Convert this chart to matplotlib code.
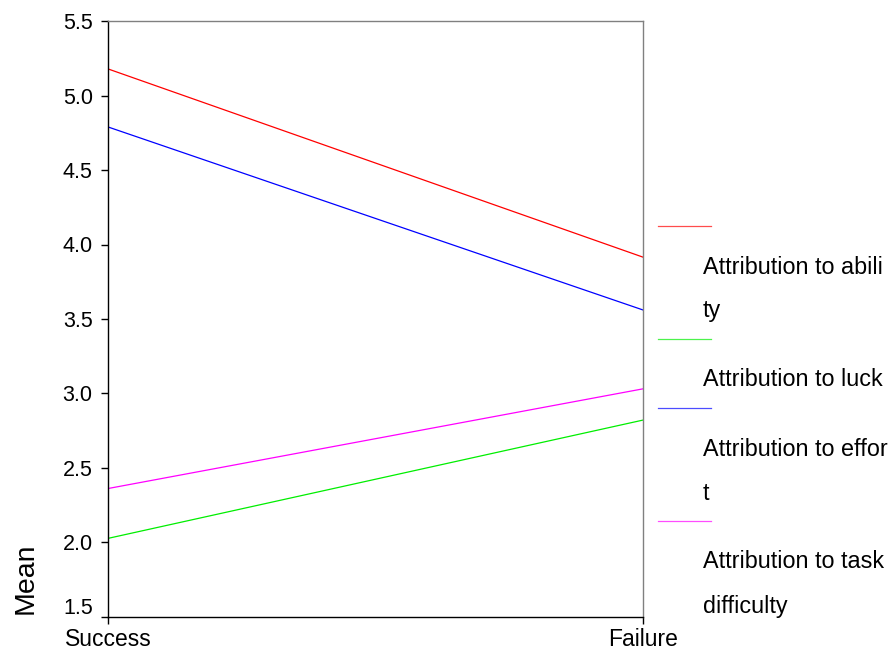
import matplotlib.pyplot as plt
from matplotlib.lines import Line2D
from matplotlib.transforms import ScaledTranslation

plt.rcParams['font.family'] = ['Liberation Sans', 'DejaVu Sans']

# data
conditions = ['Success', 'Failure']
series = ['Attribution to ability', 'Attribution to luck',
          'Attribution to effort', 'Attribution to task difficulty']
# legend text as wrapped in the original
legend_lines = [['Attribution to abili', 'ty'],
                ['Attribution to luck'],
                ['Attribution to effor', 't'],
                ['Attribution to task', 'difficulty']]
colors = ['#ff0000', '#00ee00', '#0000ff', '#ff00ff']
means = [
    [5.18, 3.915],
    [2.025, 2.82],
    [4.79, 3.56],
    [2.36, 3.03],
]
yticks = [1.5, 2.0, 2.5, 3.0, 3.5, 4.0, 4.5, 5.0, 5.5]

W, H = 893, 651
fig = plt.figure(figsize=(W / 100, H / 100), dpi=100)
ax = fig.add_axes([108 / W, 1 - 616.5 / H, (643 - 108) / W, (616.5 - 21.3) / H])

x = list(range(len(conditions)))
for vals, c, name in zip(means, colors, series):
    ax.plot(x, vals, color=c, lw=0.9, label=name)

ax.set_xlim(0, 1)
ax.set_ylim(1.5, 5.5)
ax.set_xticks(x)
ax.set_xticklabels(conditions, fontsize=16.5)
ax.set_yticks(yticks)
ax.set_yticklabels([f'{v:.1f}' for v in yticks], fontsize=15.5)
ax.tick_params(direction='out', length=5, width=1, color='black', pad=3)
ax.tick_params(axis='y', pad=6)
# bottom label sits a bit above its tick, clear of the x axis
lab = ax.get_yticklabels()[0]
lab.set_transform(lab.get_transform() + ScaledTranslation(0, 10 / 100, fig.dpi_scale_trans))
ax.set_ylabel('Mean', fontsize=20.5, labelpad=10)
ax.yaxis.set_label_coords(-0.13, 0.065)

for side in ['left', 'bottom']:
    ax.spines[side].set_color('black')
    ax.spines[side].set_linewidth(1)
for side in ['top', 'right']:
    ax.spines[side].set_color('#808080')
    ax.spines[side].set_linewidth(1)

# legend drawn by hand, like the SPSS one
ypix = 226
for lines, c in zip(legend_lines, colors):
    fig.add_artist(Line2D([658 / W, 711 / W], [1 - ypix / H, 1 - ypix / H],
                          color=c, lw=0.9, alpha=0.7))
    ypix += 41
    for t in lines:
        fig.text(703 / W, 1 - ypix / H, t, fontsize=16.8, va='center', ha='left')
        ypix += 44
    ypix -= 16

fig.savefig('out.png', dpi=100)
